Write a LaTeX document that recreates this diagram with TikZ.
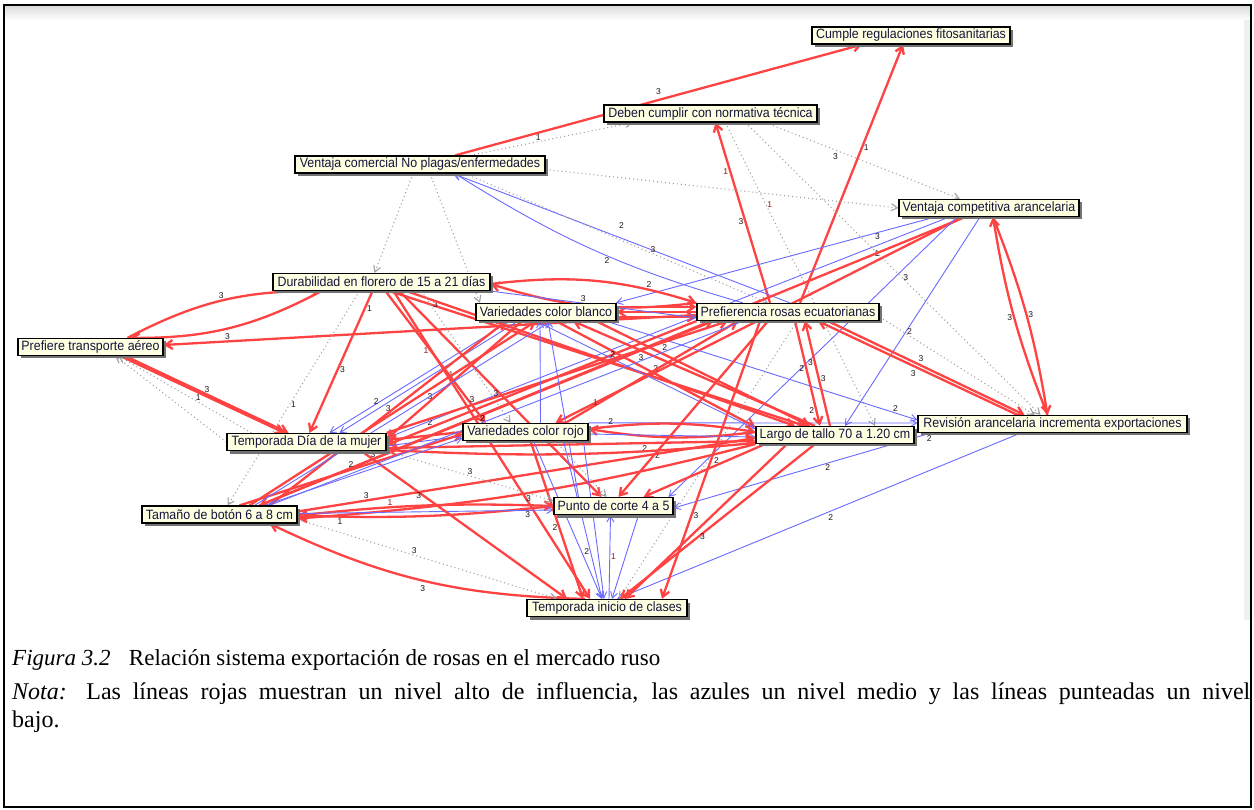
\documentclass[tikz,border=0pt]{standalone}
\usepackage{fontspec}
\setmainfont{Liberation Serif}
\newfontfamily\boxfont[FakeStretch=0.92]{Liberation Sans}
\newfontfamily\lblfont{Liberation Sans}
\usetikzlibrary{arrows.meta,shadows}
\pgfdeclarelayer{back}
\pgfdeclarelayer{edges}
\pgfsetlayers{back,edges,main}
\definecolor{hired}{RGB}{255,66,66}
\definecolor{medblue}{RGB}{105,105,255}
\definecolor{lowgray}{RGB}{160,160,160}
\definecolor{boxfill}{RGB}{255,255,226}
\definecolor{boxtext}{RGB}{20,20,60}
\definecolor{lbltext}{RGB}{30,20,20}
\definecolor{lblred}{RGB}{150,20,20}
\begin{document}
\begin{tikzpicture}[x=1pt,y=-1pt,
  var/.style={draw=black, line width=1.2pt, fill=boxfill, text=boxtext,
    font=\boxfont\fontsize{13.5}{15}\selectfont, inner xsep=1pt, inner ysep=0pt,
    minimum height=17pt,
    drop shadow={shadow xshift=3pt,shadow yshift=-3pt,fill=black!55,opacity=1}},
  hi/.style={draw=hired, line width=2.3pt, -{Straight Barb[length=7pt,width=9pt]}},
  med/.style={draw=medblue, line width=0.9pt, -{Straight Barb[length=6pt,width=7pt]}},
  low/.style={draw=lowgray, line width=1.1pt, dash pattern=on 1pt off 3pt, -{Straight Barb[length=6pt,width=7pt]}},
  lbl/.style={font=\lblfont\fontsize{8.5}{9}\selectfont, text=lbltext, inner sep=1pt},
  lblr/.style={lbl, text=lblred}]
\useasboundingbox (0,0) rectangle (1254,810);
\begin{pgfonlayer}{back}
  \fill[white] (0,0) rectangle (1254,810);
  \shade[top color=black!14, bottom color=white] (5,6) rectangle (1250,20);
  \fill[black!6] (1244,20) rectangle (1250,620);
  \draw[line width=2pt] (4,5) rectangle (1251,807);
\end{pgfonlayer}

% nodes
\node[var, minimum width=198pt] (cum) at (911,35.5) {Cumple regulaciones fitosanitarias};
\node[var, minimum width=213pt] (deb) at (710.5,113.5) {Deben cumplir con normativa técnica};
\node[var, minimum width=250pt] (vcn) at (420,164.5) {Ventaja comercial No plagas/enfermedades};
\node[var, minimum width=180pt] (vca) at (989,208) {Ventaja competitiva arancelaria};
\node[var, minimum width=217pt] (dur) at (381.5,282) {Durabilidad en florero de 15 a 21 días};
\node[var, minimum width=140pt] (vbl) at (546,312) {Variedades color blanco};
\node[var, minimum width=182pt] (pre) at (788,312) {Prefierencia rosas ecuatorianas};
\node[var, minimum width=145pt] (ptr) at (90.5,347) {Prefiere transporte aéreo};
\node[var, minimum width=159pt] (tdm) at (306.5,442) {Temporada Día de la mujer};
\node[var, minimum width=125pt] (vro) at (525.5,432) {Variedades color rojo};
\node[var, minimum width=158pt] (lar) at (835,435) {Largo de tallo 70 a 1.20 cm};
\node[var, minimum width=269pt] (rev) at (1052.5,424) {Revisión arancelaria incrementa exportaciones};
\node[var, minimum width=155pt] (tam) at (219.5,514.5) {Tamaño de botón 6 a 8 cm};
\node[var, minimum width=119pt] (pun) at (613.5,506) {Punto de corte 4 a 5};
\node[var, minimum width=160pt] (tic) at (607,608) {Temporada inicio de clases};

\begin{pgfonlayer}{edges}
% top part
\draw[hi] ([xshift=35]vcn.north) -- node[lbl,pos=.5,above=3pt]{3} ([xshift=-49]cum.south);
\draw[low] ([xshift=50]vcn.north) -- node[lbl,pos=.42,above]{1} ([xshift=-78]deb.south);
\draw[hi] ([xshift=-18]pre.north) -- node[lbl,pos=.45,left]{3} node[lblr,pos=.73,left]{1} ([xshift=5]deb.south);
\draw[hi] ([xshift=12]pre.north) -- node[lbl,pos=.6,right]{1} ([xshift=-8]cum.south);
\draw[low] ([xshift=55]deb.south) -- node[lbl,pos=.38,below left]{3} ([xshift=-29]vca.north);
\draw[low] ([yshift=-5]vcn.east) -- (vca.west);
\draw[low] ([xshift=35]deb.south) -- node[lbl,pos=.53,right]{3} ([xshift=-12]rev.north);
\draw[low] ([xshift=15]deb.south) -- node[lblr,pos=.27,right]{1} ([xshift=40]lar.north);
\draw[med] ([xshift=2]pre.north) -- node[lbl,pos=.5,above=8pt]{2} ([xshift=33]vcn.south);
\draw[med] ([xshift=-45]pre.north) to[bend left=8] node[lbl,pos=.45,below]{2} ([xshift=35]vcn.south);
\draw[low] ([xshift=45]vcn.south) -- node[lbl,pos=.62,above]{3} ([xshift=-20]pre.north);
\draw[low] ([xshift=10]vcn.south) -- ([xshift=-66]vbl.north);
\draw[low] ([xshift=-7]vcn.south) -- ([xshift=-7]dur.north);
% ventaja competitiva
\draw[med] ([xshift=-54]vca.south) -- node[lbl,pos=.18,below]{3} ([xshift=70]vbl.north);
\draw[hi] ([xshift=-26]vca.south) -- node[lbl,pos=.2,above left]{1} ([xshift=30]vro.north);
\draw[hi] ([xshift=-24]vca.south) -- ([xshift=40]tam.north);
\draw[med] ([xshift=-9]vca.south) -- node[lbl,pos=.55,right]{2} ([xshift=10]lar.north);
\draw[med] ([xshift=-32]vca.south) -- ([xshift=55]pun.north);
\draw[med] ([xshift=-40]vca.south) -- ([yshift=4]tdm.east);
\draw[hi] ([xshift=4]vca.south) to[bend left=6] node[lbl,pos=.5,right]{3} ([xshift=-5]rev.north);
\draw[hi] ([xshift=-5]rev.north) to[bend left=6] node[lbl,pos=.5,left]{3} ([xshift=4]vca.south);
% preferencia - revision
\draw[hi] ([xshift=40]pre.south) -- node[lbl,pos=.45,above right]{3} ([xshift=-28]rev.north);
\draw[hi] ([xshift=-35]rev.north) -- node[lbl,pos=.5,below left]{3} ([xshift=30]pre.south);
\draw[low] ([yshift=-5]pre.east) -- ([xshift=-18]rev.north);
\draw[med] ([xshift=60]vbl.south) -- node[lbl,pos=.93,above]{2} ([yshift=4]rev.west);
\draw[med] (vro.north east) -- ([yshift=1]rev.west);
\draw[med] ([xshift=-122]rev.south) -- node[lbl,pos=.02,below right]{2} node[lbl,pos=.4,below]{2} ([yshift=-2]pun.east);
\draw[med] ([xshift=-32]rev.south) -- node[lbl,pos=.48,below right]{2} ([xshift=10]tic.north);
% left part
\draw[hi] ([xshift=37]ptr.north) to[bend left=14] node[lbl,pos=.5,above]{3} ([xshift=-60]dur.south);
\draw[hi] ([xshift=-60]dur.south) to[bend left=14] ([xshift=40]ptr.north);
\draw[hi] ([yshift=-3]pre.west) -- node[lbl,pos=.88,above]{3} ([yshift=2]ptr.east);
\draw[hi] ([xshift=30]ptr.south) -- node[lbl,pos=.5,above right]{3} ([xshift=-22]tdm.north);
\draw[hi] ([xshift=35]ptr.south) -- ([xshift=-18]tdm.north);
\draw[low] ([xshift=-55]tdm.north) -- node[lbl,pos=.4,above]{1} ([xshift=28]ptr.south);
\draw[low] (tdm.west) -- ([xshift=25]ptr.south);
\draw[hi] ([xshift=-9]dur.south) -- node[lbl,pos=.12,right]{1} node[lbl,pos=.55,right]{3} ([xshift=3]tdm.north);
\draw[low] ([xshift=-22]dur.south) -- node[lbl,pos=.53,right]{1} ([xshift=8]tam.north);
\draw[med] ([xshift=-36]vbl.south) -- node[lbl,pos=.72,left]{2} ([xshift=23]tdm.north);
\draw[med] ([xshift=-28]vbl.south) -- ([xshift=33]tdm.north);
\draw[hi] ([xshift=-24]vbl.south) -- node[lbl,pos=.68,above]{3} ([yshift=3]tdm.east);
\draw[hi] (pre.south west) -- node[lbl,pos=.86,above]{2} ([yshift=-3]tdm.east);
\draw[hi] ([xshift=8]dur.south) -- node[lbl,pos=.1,right]{3} ([xshift=-30]lar.north);
\draw[hi] ([xshift=12]dur.south) -- node[lblr,pos=.27,right]{1} ([xshift=-17]tic.north);
\draw[hi] ([xshift=18]dur.south) -- node[lbl,pos=.5,left]{3} ([xshift=-12]pun.north);
\draw[hi] ([xshift=4]dur.south) -- node[lblr,pos=.45,left]{1} ([xshift=-40]vro.north);
\draw[hi] ([xshift=25]dur.south) -- ([xshift=-40]lar.north);
\draw[low] ([xshift=40]dur.south) -- ([xshift=-15]vro.north);
% durabilidad - preferencia lens
\draw[hi] ([yshift=-2]dur.east) to[bend left=12] node[lbl,pos=.78,above]{2} (pre.north west);
\draw[hi] (pre.north west) to[bend left=12] ([yshift=-2]dur.east);
% blanco - preferencia
\draw[hi] ([yshift=5]vbl.east) -- ([yshift=5]pre.west);
\draw[hi] (pre.west) -- (vbl.east);
\draw[hi] ([yshift=-5]vbl.east) -- ([yshift=-5]pre.west);
% blanco - largo
\draw[hi] ([xshift=50]vbl.south) -- node[lbl,pos=.3,above right]{2} ([xshift=-25]lar.north);
\draw[hi] ([xshift=-20]lar.north) -- node[lbl,pos=.7,below left]{3} ([xshift=27]vbl.south);
\draw[hi] ([xshift=10]vbl.south) -- node[lbl,pos=.5,above]{2} ([yshift=8]lar.west);
\draw[med] ([xshift=-10]vbl.south) -- node[lbl,pos=.35,above]{2} ([yshift=6]lar.west);
% preferencia - largo
\draw[hi] ([xshift=7]pre.south) -- node[lbl,pos=.45,left]{2} node[lbl,pos=.85,left]{2} ([xshift=-15]lar.north);
\draw[hi] ([xshift=-5]lar.north) -- node[lbl,pos=.45,right]{3} node[lbl,pos=.6,left]{3} ([xshift=17]pre.south);
% rojo - largo
\draw[hi] ([yshift=3]vro.east) to[bend left=8] node[lbl,pos=.12,above]{2} ([yshift=3]lar.west);
\draw[hi] ([yshift=3]lar.west) to[bend left=8] ([yshift=3]vro.east);
\draw[med] ([yshift=-2]vro.east) -- ([yshift=-2]lar.west);
% mujer - rojo - largo
\draw[hi] (vro.west) -- ([yshift=2]tdm.east);
\draw[med] ([yshift=-4]tdm.east) -- ([yshift=-4]vro.west);
\draw[hi] ([yshift=-6]tdm.east) -- node[lbl,pos=.7,below]{2} ([yshift=-6]lar.west);
\draw[hi] ([yshift=-8]lar.west) to[bend left=4] node[lbl,pos=.25,below]{2} ([yshift=-8]tdm.east);
% tamano
\draw[hi] ([yshift=3]tam.east) -- node[lbl,pos=.15,above]{3} ([yshift=-3]lar.west);
\draw[hi] (lar.south west) to[bend left=5] node[lbl,pos=.5,below]{3} ([yshift=-4]tam.east);
\draw[hi] ([yshift=-1]tam.east) to[bend left=4] node[lblr,pos=.35,above]{1} (pun.west);
\draw[hi] (pun.west) to[bend left=4] node[lbl,pos=.85,below]{1} ([yshift=-1]tam.east);
\draw[med] ([yshift=1]tam.east) -- node[lbl,pos=.9,below]{3} ([yshift=-4]pun.west);
\draw[hi] ([xshift=-22]tic.north) to[bend left=12] node[lbl,pos=.5,below=3pt]{3} ([xshift=50]tam.south);
\draw[hi] ([xshift=55]tdm.south) -- node[lbl,pos=.3,left]{3} ([xshift=-40]tic.north);
\draw[low] ([yshift=-5]tam.east) -- node[lbl,pos=.45,above]{3} ([xshift=-50]tic.north);
\draw[hi] ([xshift=40]tam.north) -- node[lbl,pos=.25,above]{3} ([xshift=-75]pre.south);
\draw[hi] ([xshift=30]tam.north) -- node[lbl,pos=.5,above left]{3} ([xshift=-10]vbl.south);
\draw[hi] ([xshift=20]tam.north) -- node[lbl,pos=.5,above]{2} ([yshift=-2]vro.west);
\draw[hi] ([xshift=50]tam.north) -- ([xshift=-40]vbl.south);
\draw[med] ([xshift=35]tam.north) -- ([xshift=5]vbl.south);
\draw[med] ([xshift=45]tam.north) -- ([yshift=-6]vro.west);
% centre to punto / inicio de clases
\draw[hi] ([xshift=5]vro.south) -- node[lbl,pos=.55,left]{2} ([xshift=-24]tic.north);
\draw[med] ([xshift=8]vro.south) -- ([xshift=-5]tic.north);
\draw[med] ([xshift=38]vro.south) -- node[lbl,pos=.7,left]{2} ([xshift=-5]tic.north);
\draw[med] ([xshift=58]vro.south) -- ([xshift=-3]tic.north);
\draw[med] ([xshift=2]tic.north) -- node[lblr,pos=.5,right]{1} ([xshift=-3]pun.south);
\draw[med] ([xshift=25]pun.south) -- ([xshift=5]tic.north);
\draw[low] ([xshift=9]pre.south) -- ([xshift=12]tic.north);
\draw[hi] ([xshift=-20]lar.south) -- node[lbl,pos=.6,right]{3} ([xshift=13]tic.north);
\draw[hi] ([xshift=-48]lar.south) -- ([xshift=18]tic.north);
\draw[hi] ([xshift=-70]lar.south) -- node[lbl,pos=.4,above]{2} ([xshift=30]pun.north);
\draw[hi] ([xshift=-20]pre.south) -- ([xshift=5]pun.north);
\draw[hi] ([xshift=-28]pre.south) -- node[lbl,pos=.7,right]{3} ([xshift=55]tic.north);
\draw[hi] ([xshift=40]vro.north) -- node[lblr,pos=.2,left]{1} ([xshift=-50]pre.south);
\draw[hi] (tdm.north east) -- node[lbl,pos=.25,above]{3} ([xshift=-60]pre.south);
\draw[low] ([xshift=30]vro.south) -- ([xshift=-7]pun.north);
\draw[low] (tdm.south east) -- node[lbl,pos=.5,above]{3} ([yshift=5]pun.west);
\draw[med] ([xshift=-35]pun.north) -- ([xshift=2]vbl.south);
\draw[med] ([xshift=15]vro.north) -- ([xshift=-6]vbl.south);
\draw[med] (dur.south east) -- node[lbl,pos=.45,above]{3} ([yshift=-6]pre.west);
\draw[med] ([xshift=-45]pre.south) -- node[lbl,pos=.55,above]{2} ([xshift=50]tam.north);
\end{pgfonlayer}

% caption
\node[anchor=base west, inner sep=0, font=\fontsize{23}{27}\selectfont] (cap) at (12,665)
  {\textit{Figura 3.2}\hspace{0.55em} Relación sistema exportación de rosas en el mercado ruso};
\node[anchor=north west, inner sep=0, text width=1238pt, align=justify, font=\fontsize{24}{28}\selectfont] (nota) at (12,682)
  {\textit{Nota:} Las líneas rojas muestran un nivel alto de influencia, las azules un nivel medio y las líneas punteadas un nivel\linebreak bajo.};
\end{tikzpicture}
\end{document}
